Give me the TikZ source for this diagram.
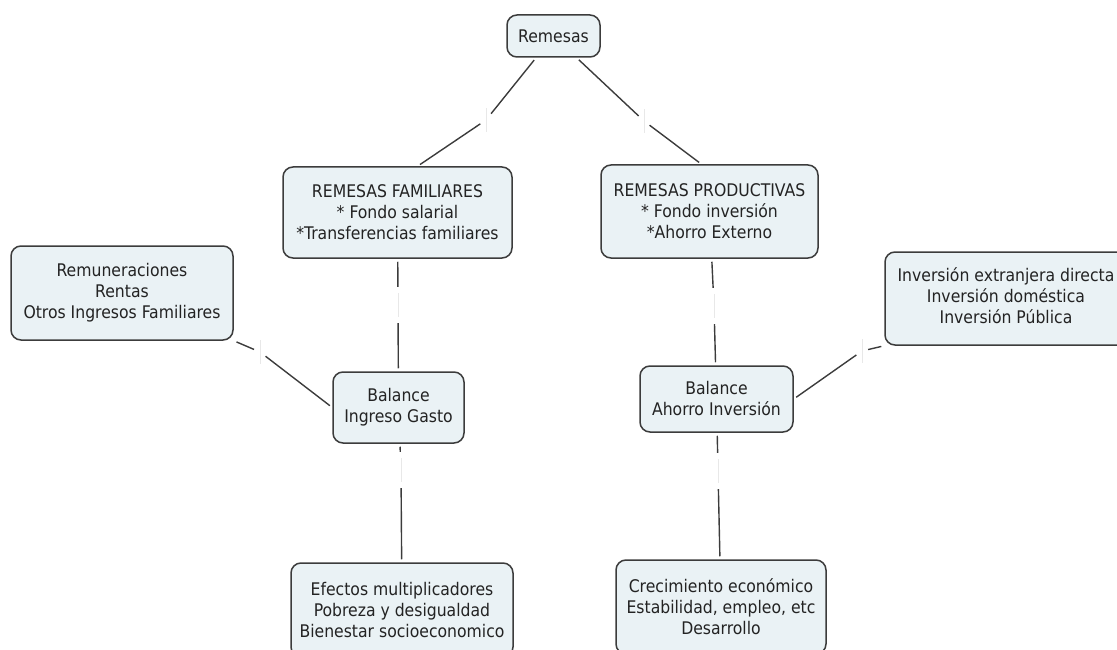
\documentclass[tikz,border=0pt]{standalone}
\usepackage{fontspec}
\setmainfont{DejaVu Sans Condensed}
\definecolor{boxfill}{RGB}{234,242,245}
\definecolor{boxline}{RGB}{60,60,60}
\definecolor{inkgray}{RGB}{35,35,35}
\tikzset{
  concept/.style={draw=boxline, fill=boxfill, line width=1.5pt, rounded corners=10pt,
    align=center, text=inkgray, font=\fontsize{17.4}{21}\selectfont, inner sep=0pt},
  linker/.style={rectangle, inner sep=0pt, minimum width=6pt, minimum height=30pt},
  link/.style={draw=boxline, line width=1.4pt, shorten <=3pt, shorten >=3pt},
  tick/.style={draw=gray!18, line width=0.8pt}
}
\begin{document}
\begin{tikzpicture}[x=1pt,y=-1pt]
\useasboundingbox (0,0) rectangle (1117,650);
\node[concept, minimum width=93, minimum height=42] (remesas) at (553.5,36) {Remesas};
\node[concept, minimum width=229, minimum height=91] (familiares) at (397.5,212.5)
  {REMESAS FAMILIARES\\* Fondo salarial\\*Transferencias familiares};
\node[concept, minimum width=217, minimum height=93] (productivas) at (709.5,211.5)
  {REMESAS PRODUCTIVAS\\* Fondo inversión\\*Ahorro Externo};
\node[concept, minimum width=222, minimum height=94] (ingresos) at (122,293)
  {Remuneraciones\\Rentas\\Otros Ingresos Familiares};
\node[concept, minimum width=262, minimum height=93] (inversiones) at (1016,298.5)
  {\hspace*{-20pt}\begin{tabular}{@{}c@{}}Inversión extranjera directa\\Inversión doméstica\\Inversión Pública\end{tabular}};
\node[concept, minimum width=131, minimum height=71] (balanceig) at (398.5,407.5)
  {Balance\\Ingreso Gasto};
\node[concept, minimum width=153, minimum height=66] (balanceai) at (716.5,399)
  {Balance\\Ahorro Inversión};
\node[concept, minimum width=222, minimum height=94] (efectos) at (402,610)
  {Efectos multiplicadores\\Pobreza y desigualdad\\Bienestar socioeconomico};
\node[concept, minimum width=210, minimum height=94] (crecimiento) at (721,607)
  {Crecimiento económico\\Estabilidad, empleo, etc\\Desarrollo};

\foreach \n/\x/\y in {l1/486/120, l2/644/121, l3/398/305, l4/714/306,
                      l5/260/352, l6/862/351, l7/401/470, l8/718/471}
  \node[linker] (\n) at (\x,\y) {};
\foreach \n in {l1,l2,l3,l4,l5,l6,l7,l8}
  \draw[tick] ([yshift=12pt]\n.center) -- ([yshift=-12pt]\n.center);

\draw[link] (remesas) -- (l1);
\draw[link] (l1) -- ([xshift=20pt]familiares.north);
\draw[link] (remesas) -- (l2);
\draw[link] (l2) -- ([xshift=-8pt]productivas.north);
\draw[link] (familiares) -- (l3);
\draw[link] (l3) -- (balanceig);
\draw[link] (productivas) -- (l4);
\draw[link] (l4) -- (balanceai);
\draw[link] (ingresos.south east) -- (l5);
\draw[link] (l5) -- (balanceig.west);
\draw[link] (balanceai.east) -- (l6);
\draw[link] (l6) -- (inversiones.south west);
\draw[link] (balanceig) -- (l7);
\draw[link] (l7) -- (efectos);
\draw[link] (balanceai) -- (l8);
\draw[link] (l8) -- (crecimiento);
\end{tikzpicture}
\end{document}
